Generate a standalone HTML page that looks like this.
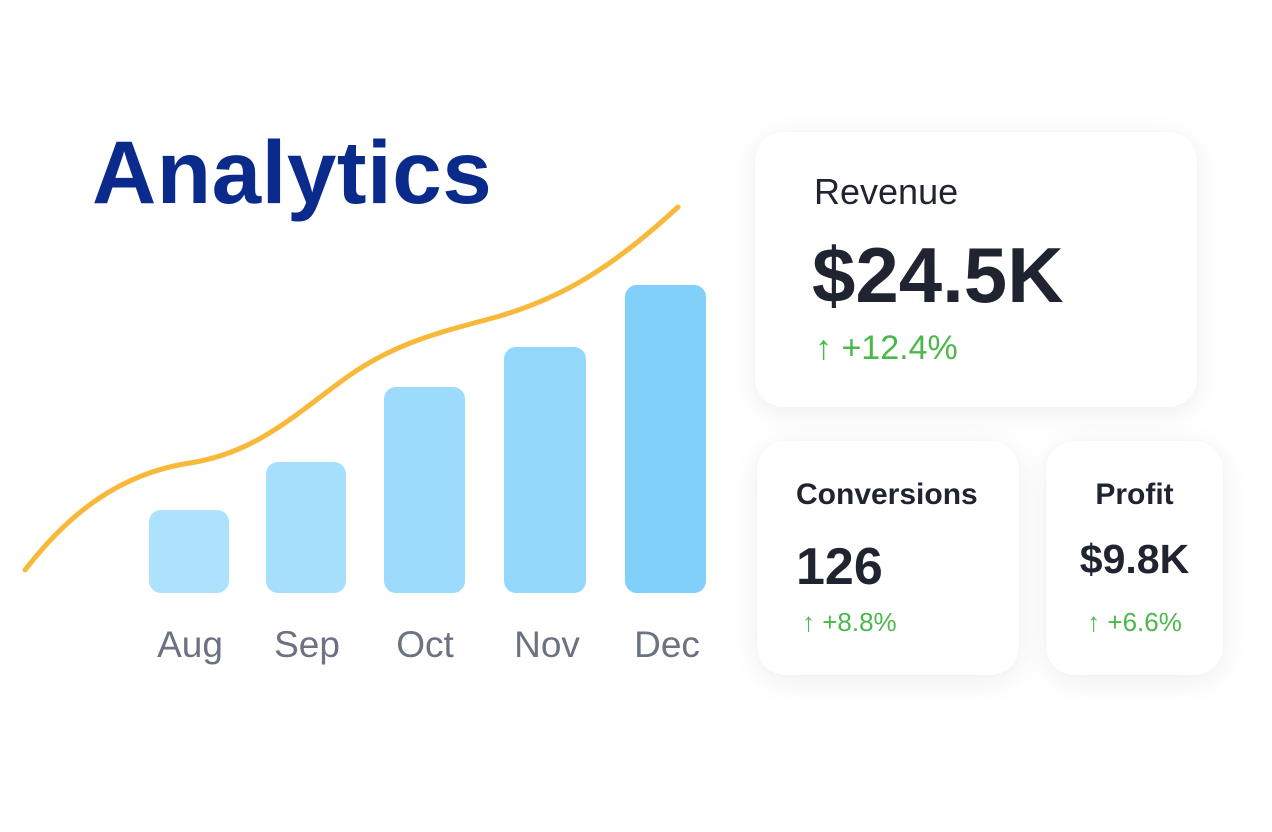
<!DOCTYPE html>
<html><head><meta charset="utf-8"><style>
html,body{margin:0;padding:0;width:1272px;height:832px;background:#fff;overflow:hidden;font-family:"Liberation Sans",sans-serif;}
.abs{position:absolute;}
.card{position:absolute;background:#fff;border-radius:28px;box-shadow:0 6px 30px rgba(0,0,0,0.07),0 0 2px rgba(0,0,0,0.03);}
.t{position:absolute;white-space:nowrap;line-height:1;}
.g{color:#4cb84c;}
.m{position:absolute;top:626px;font-size:37px;color:#6b7280;width:120px;text-align:center;line-height:1;}
</style></head><body>
<div class="t" style="left:92px;top:128px;font-size:89px;font-weight:bold;color:#0a2a8c;letter-spacing:0.5px;">Analytics</div>
<svg class="abs" style="left:0;top:0" width="720" height="620">
<rect x="149" y="510" width="80" height="83" rx="12" fill="#ade2fc"/>
<rect x="266" y="462" width="80" height="131" rx="12" fill="#a6dffc"/>
<rect x="384" y="387" width="81" height="206" rx="12" fill="#9cdbfb"/>
<rect x="504" y="347" width="82" height="246" rx="12" fill="#93d8fb"/>
<rect x="625" y="285" width="81" height="308" rx="12" fill="#80d0fa"/>
<path d="M25,570 C60,525 110,475 190,463 C260,452 300,410 350,375 C400,340 450,330 500,316 C560,298 610,270 678,207" fill="none" stroke="#f8b93a" stroke-width="5" stroke-linecap="round"/>
</svg>
<div class="m" style="left:130px">Aug</div>
<div class="m" style="left:247px">Sep</div>
<div class="m" style="left:365px">Oct</div>
<div class="m" style="left:487px">Nov</div>
<div class="m" style="left:607px">Dec</div>

<div class="card" style="left:755px;top:132px;width:442px;height:275px;"></div>
<div class="t" style="left:814px;top:174px;font-size:36px;color:#1f2430;">Revenue</div>
<div class="t" style="left:812px;top:236px;font-size:78px;font-weight:bold;color:#1f2430;">$24.5K</div>
<div class="t g" style="left:815px;top:331px;font-size:34px;">↑ +12.4%</div>

<div class="card" style="left:757px;top:441px;width:262px;height:234px;"></div>
<div class="t" style="left:796px;top:480px;font-size:30px;font-weight:bold;color:#1f2430;">Conversions</div>
<div class="t" style="left:796px;top:541px;font-size:52px;font-weight:bold;color:#1f2430;">126</div>
<div class="t g" style="left:802px;top:609px;font-size:26px;">↑ +8.8%</div>

<div class="card" style="left:1046px;top:441px;width:177px;height:234px;"></div>
<div class="t" style="left:1046px;width:177px;text-align:center;top:480px;font-size:30px;font-weight:bold;color:#1f2430;">Profit</div>
<div class="t" style="left:1046px;width:177px;text-align:center;top:539px;font-size:41px;font-weight:bold;color:#1f2430;">$9.8K</div>
<div class="t g" style="left:1046px;width:177px;text-align:center;top:609px;font-size:26px;">↑ +6.6%</div>
</body></html>
